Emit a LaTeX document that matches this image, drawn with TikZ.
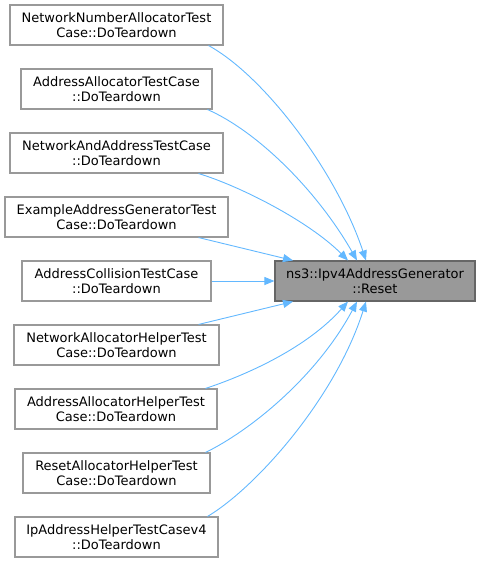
\documentclass[tikz,border=0pt]{standalone}
\usepackage{fontspec}
\setmainfont{DejaVu Sans}
\usetikzlibrary{arrows.meta}
\definecolor{edgeblue}{HTML}{63B8FF}
\definecolor{boxgray}{HTML}{999999}
\definecolor{tgtborder}{HTML}{666666}
\begin{document}
\begin{tikzpicture}[x=1pt,y=-1pt,
  srcbox/.style={draw=boxgray, line width=1.1pt, fill=white, rectangle, align=center,
    minimum height=40pt, inner sep=0pt, font=\fontsize{13}{15}\selectfont},
  tgtbox/.style={draw=tgtborder, line width=1.1pt, fill=boxgray, rectangle, align=center,
    minimum height=40pt, inner sep=0pt, font=\fontsize{13}{15}\selectfont},
  edge/.style={draw=edgeblue, line width=0.9pt, -{Triangle[length=10pt,width=8pt,fill=edgeblue]}}
]
\useasboundingbox (0,0) rectangle (480,563);
\node[srcbox, minimum width=213pt] (b1) at (116.5,25) {NetworkNumberAllocatorTest\\Case::DoTeardown};
\node[srcbox, minimum width=191pt] (b2) at (116.5,89) {AddressAllocatorTestCase\\::DoTeardown};
\node[srcbox, minimum width=213pt] (b3) at (116.5,153) {NetworkAndAddressTestCase\\::DoTeardown};
\node[srcbox, minimum width=223pt] (b4) at (116.5,217) {ExampleAddressGeneratorTest\\Case::DoTeardown};
\node[srcbox, minimum width=189pt] (b5) at (116.5,281) {AddressCollisionTestCase\\::DoTeardown};
\node[srcbox, minimum width=205pt] (b6) at (116.5,345) {NetworkAllocatorHelperTest\\Case::DoTeardown};
\node[srcbox, minimum width=202pt] (b7) at (116,409) {AddressAllocatorHelperTest\\Case::DoTeardown};
\node[srcbox, minimum width=187pt] (b8) at (116.5,473) {ResetAllocatorHelperTest\\Case::DoTeardown};
\node[srcbox, minimum width=203pt] (b9) at (116.5,537) {IpAddressHelperTestCasev4\\::DoTeardown};
\node[tgtbox, minimum width=200pt] (t) at (375,281) {ns3::Ipv4AddressGenerator\\::Reset};

\draw[edge] ([xshift=-15pt]b1.south east) .. controls +(55,30) and +(-30,-90) .. ([xshift=-9pt]t.north);
\draw[edge] ([xshift=-5pt]b2.south east) .. controls +(50,22) and +(-40,-70) .. ([xshift=-18pt]t.north);
\draw[edge] ([xshift=-25pt]b3.south east) .. controls +(40,12) and +(-40,-40) .. ([xshift=-27pt]t.north);
\draw[edge] ([xshift=-30pt]b4.south east) -- ([xshift=-82pt]t.north);
\draw[edge] (b5.east) -- (t.west);
\draw[edge] ([xshift=-21pt]b6.north east) -- ([xshift=-82pt]t.south);
\draw[edge] ([xshift=-12pt]b7.north east) .. controls +(45,-15) and +(-40,45) .. ([xshift=-27pt]t.south);
\draw[edge] ([xshift=-5pt]b8.north east) .. controls +(45,-22) and +(-40,75) .. ([xshift=-18pt]t.south);
\draw[edge] ([xshift=-11pt]b9.north east) .. controls +(50,-30) and +(-30,95) .. ([xshift=-9pt]t.south);
\end{tikzpicture}
\end{document}
